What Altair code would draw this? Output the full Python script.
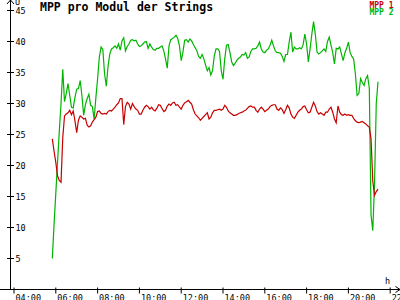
import altair as alt
import pandas as pd

# ---------------- data ----------------
title_text = "MPP pro Modul der Strings"
series_names = ["MPP 1", "MPP 2"]
series_colors = ["#c80000", "#00b400"]
start_time = "05:50"      # first sample
step_minutes = 5          # sampling interval

mpp1 = [
    24.3, 22.3, 20.5, 18.3, 17.6, 17.3, 24.5, 28.0, 28.3, 28.5,
    28.9, 28.2, 28.8, 27.2, 25.3, 27.3, 28.0, 27.8, 27.5, 27.6,
    26.5, 26.2, 26.4, 27.0, 27.4, 27.8, 28.7, 28.8, 28.4, 28.3,
    28.4, 28.3, 28.7, 28.9, 28.8, 29.1, 29.4, 29.8, 30.1, 30.8,
    30.8, 26.6, 29.5, 30.2, 29.9, 29.1, 30.0, 29.5, 29.1, 28.9,
    28.3, 28.3, 28.9, 29.4, 29.7, 29.5, 29.1, 29.4, 29.0, 28.8,
    29.2, 29.8, 29.7, 29.2, 28.7, 28.9, 29.6, 29.9, 29.7, 30.1,
    30.2, 29.7, 29.8, 29.4, 29.1, 29.7, 30.1, 30.3, 30.5, 30.2,
    29.9, 29.0, 28.3, 28.0, 27.7, 27.3, 27.6, 27.9, 28.2, 28.5,
    27.5, 27.8, 28.5, 28.9, 28.9, 29.0, 29.1, 28.9, 29.1, 29.7,
    29.4, 28.8, 28.5, 28.3, 28.1, 28.1, 28.2, 28.4, 28.5, 28.6,
    28.8, 28.9, 29.2, 29.5, 29.6, 29.4, 29.4, 28.9, 28.6, 29.1,
    29.4, 29.1, 28.7, 28.9, 29.1, 29.5, 29.7, 29.8, 29.8, 29.1,
    28.9, 29.3, 29.0, 28.4, 29.0, 29.7, 29.3, 28.3, 27.8, 27.6,
    28.1, 28.6, 28.9, 29.1, 29.5, 29.6, 29.0, 28.5, 28.6, 29.4,
    30.2, 29.6, 28.7, 28.3, 28.5, 28.3, 28.1, 28.6, 28.6, 29.1,
    29.4, 28.6, 27.5, 26.9, 29.6, 28.6, 28.2, 28.1, 28.3, 28.1,
    28.2, 28.1, 28.1, 27.6, 27.2, 27.0, 26.9, 27.0, 27.1, 26.9,
    26.7, 26.4, 26.2, 24.3, 17.5, 15.2, 15.8, 16.2,
]

mpp2 = [
    5.0, 10.5, 15.5, 20.5, 25.5, 30.0, 35.5, 30.3, 31.6, 33.2,
    31.3, 29.4, 29.3, 31.0, 32.3, 32.4, 33.7, 31.3, 28.1, 29.8,
    30.8, 31.5, 29.7, 29.5, 27.5, 30.9, 34.0, 37.5, 39.1, 38.7,
    34.8, 32.8, 36.0, 38.0, 38.8, 39.0, 39.3, 38.9, 39.6, 38.6,
    40.1, 40.6, 38.5, 39.2, 39.6, 40.2, 40.3, 40.1, 40.2, 39.6,
    39.2, 39.3, 39.6, 39.9, 40.0, 38.9, 39.6, 39.1, 38.7, 38.6,
    38.9, 38.9, 39.1, 39.3, 38.5, 37.2, 35.7, 39.3, 40.3, 40.5,
    40.7, 41.0, 40.5, 39.3, 36.9, 38.3, 40.2, 40.3, 39.9, 40.4,
    40.1, 39.5, 39.0, 38.5, 37.6, 37.3, 37.9, 37.2, 36.2, 35.3,
    35.8, 34.6, 35.3, 37.7, 38.8, 38.8, 38.4, 35.3, 33.9, 37.2,
    39.4, 39.5, 38.2, 36.7, 36.1, 36.5, 37.0, 37.3, 37.5, 37.9,
    37.8, 38.2, 37.3, 37.5, 38.4, 38.8, 38.8, 38.9, 39.3, 39.9,
    38.8, 38.3, 38.2, 38.6, 38.8, 39.4, 40.2, 39.3, 38.5, 38.2,
    38.2, 38.1, 37.6, 36.8, 37.9, 37.9, 39.9, 41.5, 38.3, 39.1,
    38.8, 38.8, 39.0, 38.8, 39.5, 41.2, 39.6, 36.7, 38.8, 41.2,
    43.2, 41.2, 38.3, 38.0, 38.2, 38.5, 38.8, 38.4, 40.0, 40.7,
    39.4, 38.2, 36.4, 38.9, 38.8, 39.1, 38.0, 36.9, 38.2, 38.9,
    39.9, 38.2, 37.6, 37.2, 34.8, 31.3, 31.6, 34.0, 33.4, 32.9,
    34.0, 34.5, 32.5, 12.0, 9.5, 17.0, 30.0, 33.5,
]

y_ticks = [5, 10, 15, 20, 25, 30, 35, 40, 45]
x_ticks = [4, 6, 8, 10, 12, 14, 16, 18, 20, 22]
y_unit = "U"
x_unit = "h"

# ---------------- build table ----------------
h0, m0 = (int(p) for p in start_time.split(":"))
t_start = h0 + m0 / 60.0
rows = []
for name, vals in zip(series_names, [mpp1, mpp2]):
    for k, v in enumerate(vals):
        rows.append({"t": t_start + k * step_minutes / 60.0, "v": v, "s": name})
df = pd.DataFrame(rows)

FONT = "DejaVu Sans Mono"
W, H = 389.5, 289
xscale = alt.Scale(domain=[3.83254, 22.4689], nice=False, zero=False)
yscale = alt.Scale(domain=[0, 46.6129], nice=False, zero=False)

xaxis = alt.Axis(
    values=x_ticks, labelExpr="(datum.value < 10 ? '0' : '') + datum.value + ':00'",
    domain=False, ticks=False, grid=False, title=None,
    labelAlign="left", labelBaseline="top", labelPadding=4, labelOffset=1,
    labelFont=FONT, labelFontSize=8.5, labelColor="black",
    labelOverlap=False, labelFlush=False,
)
yaxis = alt.Axis(
    values=y_ticks, domain=False, ticks=False, grid=False, title=None,
    labelAlign="left", labelBaseline="middle", labelPadding=-4.5,
    labelFont=FONT, labelFontSize=8.5, labelColor="black",
    labelOverlap=False, labelFlush=False,
)

one = pd.DataFrame({"a": [0]})


def seg(x1, y1, x2, y2):
    return alt.Chart(one).mark_rule(color="black", strokeWidth=1).encode(
        x=alt.value(x1), y=alt.value(y1), x2=alt.value(x2), y2=alt.value(y2)
    )


def txt(x, y, text, color="black", size=8.5, weight="normal", align="left"):
    return alt.Chart(one).mark_text(
        font=FONT, fontSize=size, fontWeight=weight, color=color,
        align=align, baseline="alphabetic",
    ).encode(x=alt.value(x), y=alt.value(y), text=alt.value(text))


green = alt.Chart(df[df.s == series_names[1]]).mark_line(
    color=series_colors[1], strokeWidth=1.2
).encode(
    x=alt.X("t:Q", scale=xscale, axis=xaxis),
    y=alt.Y("v:Q", scale=yscale, axis=yaxis),
)
red = alt.Chart(df[df.s == series_names[0]]).mark_line(
    color=series_colors[0], strokeWidth=1.2
).encode(
    x=alt.X("t:Q", scale=xscale, axis=xaxis),
    y=alt.Y("v:Q", scale=yscale, axis=yaxis),
)

ytick_layer = alt.Chart(pd.DataFrame({"v": y_ticks})).mark_rule(color="black").encode(
    y=alt.Y("v:Q", scale=yscale, axis=yaxis), x=alt.value(-3.5), x2=alt.value(3.5)
)
xtick_layer = alt.Chart(pd.DataFrame({"t": x_ticks})).mark_rule(color="black").encode(
    x=alt.X("t:Q", scale=xscale, axis=xaxis), y=alt.value(H - 2), y2=alt.value(H + 4)
)

layers = [
    green, red,
    seg(0, -0.5, 0, H),            # y axis line
    seg(-10.5, H, W, H),           # x axis line
    seg(-3.5, 3.5, 0, -0.5), seg(0, -0.5, 3.5, 3.5),      # y arrow
    seg(W - 4.5, H - 3, W, H), seg(W - 4.5, H + 3, W, H),  # x arrow
    ytick_layer, xtick_layer,
    txt(29.5, 10.5, title_text, size=11.5, weight="bold"),
    txt(383, 7, series_names[0], color=series_colors[0], size=8, weight="bold", align="right"),
    txt(383, 14.5, series_names[1], color=series_colors[1], size=8, weight="bold", align="right"),
    txt(4.5, 4, y_unit, size=8.5),
    txt(374.5, 283.5, x_unit, size=8.5),
]

chart = alt.layer(*layers).properties(
    width=W, height=H,
    padding={"left": 10.5, "top": 0.5, "right": 0, "bottom": 10.5},
    autosize=alt.AutoSizeParams(type="none"),
    background="white",
).configure_view(stroke=None)

chart.save("out.html", embed_options={"renderer": "svg", "actions": False})
